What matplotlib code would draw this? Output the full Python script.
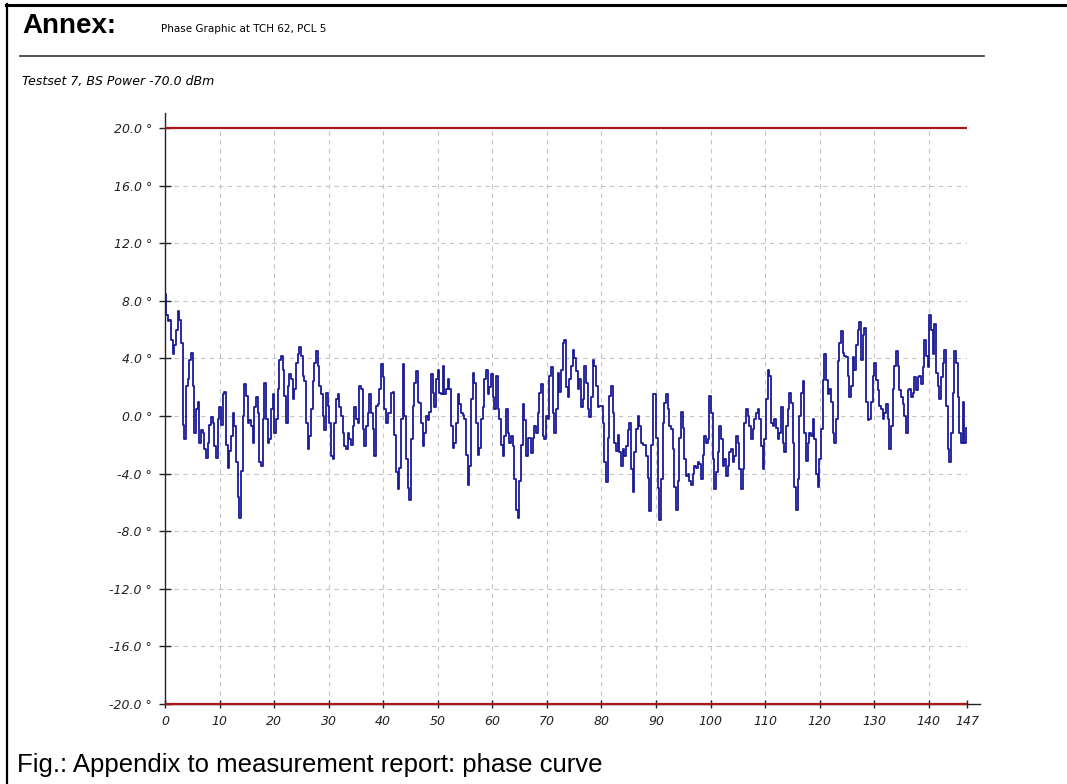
import numpy as np
import matplotlib.pyplot as plt
from matplotlib.lines import Line2D

# phase error in degrees, one sample every ~0.3 bit from bit 0 to bit 147
phase_0_41 = [
    8.5, 7.0, 6.6, 6.7, 5.3, 4.3, 4.9, 6.0, 7.3, 6.7,
    5.1, -0.6, -1.6, 2.1, 2.6, 3.9, 4.4, 2.1, -1.2, 0.5,
    1.0, -1.9, -1.0, -1.2, -2.3, -2.9, -1.9, -0.6, -0.1, -0.5,
    -2.1, -2.9, -0.2, 0.6, -0.6, 1.5, 1.7, -2.0, -3.6, -2.4,
    -1.4, 0.2, -0.7, -3.2, -5.6, -7.1, -3.8, 0.0, 2.2, 1.4,
    -0.5, -0.3, -0.7, -1.9, 0.6, 1.3, 0.2, -3.2, -3.5, -0.2,
    2.3, -0.2, -1.9, -1.6, 0.5, 1.5, -1.2, -0.2, 1.9, 3.9,
    4.2, 3.2, 1.4, -0.5, 2.1, 2.9, 2.6, 1.2, 1.9, 3.7,
    4.3, 4.8, 4.2, 2.8, 2.4, -0.5, -2.3, -1.4, 0.5, 2.4,
    3.7, 4.5, 3.5, 2.1, 1.5, 0.0, -1.0, 1.6, 0.7, -0.5,
    -2.8, -3.0, -0.5, 1.2, 1.5, 0.6, 0.0, -1.2, -2.1, -2.3,
    -1.2, -1.6, -2.0, -0.7, 0.6, -0.2, -0.5, 2.1, 1.9, -0.9,
    -2.1, -0.7, 0.2, 1.5, 0.2, -0.9, -2.8, 0.7, 0.8, 1.9,
    3.6, 2.7, 0.5, -0.5, 0.2,
]
phase_41_80 = [
    0.2, 1.6, 1.7, -1.3, -3.9, -5.1, -3.6, -0.2, 3.6, 0.0,
    -3.0, -5.0, -5.8, -1.6, 0.7, 2.3, 3.1, 1.0, 0.9, -0.5,
    -2.1, -1.2, 0.0, -0.3, 0.3, 2.9, 1.6, 0.6, 2.6, 3.2,
    1.6, 1.5, 3.5, 1.5, 1.9, 2.6, 1.9, -0.7, -2.2, -1.9,
    -0.5, 1.5, 0.8, 0.2, 0.1, -0.2, -2.7, -4.8, -3.5, 1.2,
    3.0, 2.3, -0.5, -2.7, -2.2, -0.2, 0.6, 2.6, 3.2, 1.5,
    2.0, 2.9, 1.3, 0.5, 2.8, 0.5, -0.2, -2.0, -2.8, -1.4,
    0.5, -1.2, -1.9, -1.4, -2.1, -4.4, -6.5, -7.1, -4.5, -2.0,
    0.8, -0.3, -2.8, -1.5, -1.5, -2.6, -1.5, -0.7, -1.2, 0.2,
    1.6, 2.2, -1.4, -1.6, 0.0, -0.2, 2.8, 3.4, 0.2, -1.2,
    0.5, 3.0, 1.7, 3.2, 5.1, 5.3, 2.0, 1.3, 2.6, 3.5,
    4.6, 4.0, 3.1, 1.9, 2.6, 0.6, 1.2, 3.5, 2.3, 0.5,
    -0.1, 1.3, 3.9, 3.5, 2.1, 0.6, 0.7,
]
phase_80_116 = [
    0.7, -0.5, -3.2, -4.6, -1.5, 1.4, 2.1, 0.2, -1.9, -2.4,
    -1.3, -2.5, -3.5, -2.3, -2.8, -2.1, -1.0, -0.5, -3.7, -5.3,
    -2.5, -0.9, 0.0, -0.7, -1.9, -2.0, -2.0, -2.8, -4.3, -6.6,
    -2.0, 1.5, 1.5, -1.5, -5.0, -7.2, -4.4, -0.5, 0.9, 1.5,
    0.5, -0.7, -0.9, -2.3, -4.9, -6.5, -4.5, -1.5, 0.3, -0.8,
    -3.0, -4.2, -4.0, -4.5, -4.8, -4.0, -3.5, -3.6, -3.2, -3.3,
    -4.4, -2.7, -1.4, -1.9, -1.6, 1.4, 0.2, -3.0, -5.1, -3.9,
    -2.5, -0.7, -1.6, -3.5, -3.0, -4.2, -3.5, -2.5, -2.3, -3.2,
    -2.8, -1.4, -1.9, -3.7, -5.1, -3.7, -0.5, 0.5, 0.0, -0.7,
    -1.6, -0.9, -0.2, 0.2, 0.5, -0.2, -2.1, -3.7, -1.6, 1.2,
    3.2, 2.8, -0.5, -0.7, -0.2, -0.8, -1.6, -1.2, 0.6, -1.9,
    -2.5, -0.7, 0.5, 1.6, 0.9, -1.9, -4.9, -6.5, -4.4,
]
phase_116_147 = [
    0.0, 1.6, 2.4, -1.2, -3.1, -1.9, -1.2, -1.4, -0.2, -1.6,
    -4.0, -4.9, -3.0, -0.9, 2.5, 4.3, 2.5, 1.5, 1.9, 1.0,
    -1.2, -1.9, -0.2, 3.8, 5.1, 5.9, 4.4, 4.2, 4.1, 2.8,
    1.3, 2.1, 4.1, 3.2, 4.9, 6.0, 6.5, 3.9, 5.6, 6.1,
    1.0, -0.3, -0.2, 1.0, 2.8, 3.7, 2.5, 1.8, 0.7, 0.5,
    -0.2, 0.2, 0.8, -0.2, -2.3, -0.7, 1.9, 3.5, 4.5, 3.5,
    1.8, 1.3, 0.8, 0.0, -1.2, 1.8, 1.9, 1.3, 1.6, 2.7,
    1.8, 2.7, 2.8, 2.2, 3.4, 5.3, 4.2, 3.4, 7.0, 6.0,
    4.3, 6.4, 3.0, 2.1, 1.2, 2.7, 3.7, 4.6, 0.7, -2.3,
    -3.2, -1.2, 1.6, 4.5, 3.7, 1.3, -1.2, -1.9, 1.0, -1.9,
    -0.8,
]

x_ticks = [0, 10, 20, 30, 40, 50, 60, 70, 80, 90, 100, 110, 120, 130, 140, 147]
y_ticks = [-20, -16, -12, -8, -4, 0, 4, 8, 12, 16, 20]
limits = [-20.0, 20.0]
last_bit = 147

phase = np.array(phase_0_41 + phase_41_80 + phase_80_116 + phase_116_147)
bits = np.linspace(0, last_bit, len(phase))

W, H = 1067, 784
fig = plt.figure(figsize=(W / 100, H / 100), dpi=100)


def fx(p):
    return p / W


def fy(p):
    return 1 - p / H


ax = fig.add_axes([fx(165), fy(704), fx(802), 576 / H])

# dashed grid only inside the plotting box
grid_kw = dict(colors='#c4c4c4', linestyles=(0, (4, 4)), linewidth=0.8, zorder=0)
ax.vlines(x_ticks[1:], limits[0], limits[1], **grid_kw)
ax.hlines(y_ticks, 0, last_bit, **grid_kw)

ax.plot(bits, phase, drawstyle='steps-mid', color='#1a1a96', linewidth=1.3, zorder=2)
ax.hlines(limits, 0, last_bit, colors='#a81818', linewidth=1.6, zorder=4,
          clip_on=False)

ax.set_xlim(0, last_bit)
ax.set_ylim(limits[0], limits[1])
ax.set_xticks(x_ticks)
ax.set_yticks(y_ticks)
ax.set_xticklabels([str(t) for t in x_ticks])
ax.set_yticklabels(['%.1f \u00b0' % t for t in y_ticks])

for side in ['top', 'right']:
    ax.spines[side].set_visible(False)
ax.spines['left'].set_bounds(limits[0], limits[1] + 1.05)
ax.spines['bottom'].set_bounds(0, last_bit + 2.4)
for side in ['left', 'bottom']:
    ax.spines[side].set_linewidth(1.0)
    ax.spines[side].set_color('#222222')
    ax.spines[side].set_clip_on(False)
    ax.spines[side].set_zorder(3)

ax.tick_params(axis='y', direction='inout', length=8.5, width=1.0, pad=5,
               labelsize=9, colors='#222222')
ax.tick_params(axis='x', direction='inout', length=6, width=1.0, pad=5,
               labelsize=9, colors='#222222')
for lbl in ax.get_xticklabels() + ax.get_yticklabels():
    lbl.set_fontstyle('italic')

# page frame and header
fig.add_artist(Line2D([fx(7), fx(7)], [0, fy(4)], color='black', linewidth=1.6))
fig.add_artist(Line2D([fx(6), 1], [fy(5), fy(5)], color='black', linewidth=2.2))
fig.add_artist(Line2D([fx(20), fx(984)], [fy(56), fy(56)], color='#333333', linewidth=1.2))

fig.text(fx(22), fy(33), 'Annex:', fontsize=20, fontweight='bold',
         family='Liberation Sans', va='baseline')
fig.text(fx(161), fy(32), 'Phase Graphic at TCH 62, PCL 5', fontsize=7.5,
         family='DejaVu Sans', va='baseline')
fig.text(fx(22), fy(85), 'Testset 7, BS Power -70.0 dBm', fontsize=9,
         fontstyle='italic', family='DejaVu Sans', va='baseline')
fig.text(fx(17), fy(772), 'Fig.: Appendix to measurement report: phase curve',
         fontsize=18.5, family='Liberation Sans', va='baseline')

fig.savefig('out.png', dpi=100)
